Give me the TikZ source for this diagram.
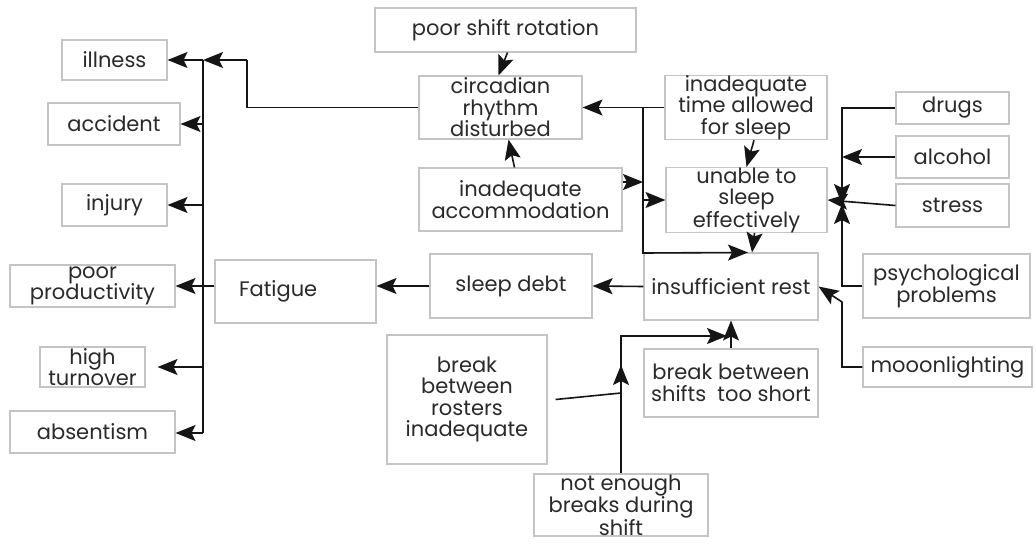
\documentclass[tikz,border=0pt]{standalone}
\usepackage{fontspec}
\setmainfont{Poppins}
\usepackage{tikz}
\usetikzlibrary{arrows.meta, positioning, calc}
\definecolor{boxgrey}{HTML}{C4C4C4}
\definecolor{inkgrey}{HTML}{2A2A2A}
\definecolor{linkblack}{HTML}{151515}

\begin{document}
\begin{tikzpicture}[x=1pt, y=-1pt,
  bx/.style={rectangle, draw=boxgrey, line width=1.1pt, align=center, inner sep=0pt,
             text=inkgrey, font=\fontsize{21}{21.5}\selectfont},
  nb/.style={bx, font=\fontsize{21}{20.5}\selectfont},
  ed/.style={-{Stealth[length=20pt, width=16pt, inset=4pt]}, line width=1.6pt, linkblack},
  ln/.style={line width=1.6pt, linkblack}]
\useasboundingbox[fill=white] (0,0) rectangle (1036,544);
% outcomes
\node[bx, minimum width=105pt, minimum height=40pt] (ill) at (114.5,60) {illness};
\node[bx, minimum width=132pt, minimum height=42pt] (acc) at (114,124) {accident};
\node[bx, minimum width=105pt, minimum height=42pt] (inj) at (114.5,205) {injury};
\node[bx, minimum width=165pt, minimum height=42pt] (pp) at (92.5,286) {poor\\productivity};
\node[bx, minimum width=105pt, minimum height=40pt] (ht) at (92.5,367) {high\\turnover};
\node[bx, minimum width=165pt, minimum height=42pt] (abs) at (92.5,432) {absentism};
\node[bx, minimum height=63pt, text width=113pt, inner xsep=24pt, align=left] (fat) at (295.5,291.5) {Fatigue};
% causes
\node[bx, minimum width=261pt, minimum height=44pt] (psr) at (505.5,30) {poor shift rotation};
\node[bx, minimum width=163pt, minimum height=63pt] (cir) at (500.5,107.5) {circadian\\rhythm\\disturbed};
\node[bx, minimum width=203pt, minimum height=63pt] (acm) at (520.5,199.5) {inadequate\\accommodation};
\node[bx, minimum width=162pt, minimum height=63pt] (itm) at (746,107.5) {inadequate\\time allowed\\for sleep};
\node[bx, minimum width=161pt, minimum height=64pt] (uns) at (746.5,200) {unable to\\sleep\\effectively};
\node[bx, minimum width=174pt, minimum height=67pt] (ir) at (731,286.5) {insufficient rest};
\node[bx, minimum width=162pt, minimum height=64pt] (sd) at (511,286) {sleep debt};
\node[bx, minimum width=113pt, minimum height=32pt] (drg) at (952.5,108) {drugs};
\node[bx, minimum width=113pt, minimum height=42pt] (alc) at (952.5,157) {alcohol};
\node[bx, minimum width=113pt, minimum height=43pt] (str) at (952.5,205.5) {stress};
\node[bx, minimum width=167pt, minimum height=64pt] (psy) at (946.5,286) {psychological\\problems};
\node[bx, minimum width=169pt, minimum height=40pt] (mnl) at (947.5,367) {mooonlighting};
\node[bx, minimum width=160pt, minimum height=129pt] (bro) at (467,399.5) {break\\between\\rosters\\inadequate};
\node[bx, minimum width=174pt, minimum height=68pt] (bbs) at (731,383) {break between\\shifts\ \ too short};
\node[nb, minimum width=174pt, minimum height=62pt] (neb) at (621,505) {not enough\\breaks during\\shift};
% junctions
\coordinate (bt) at (203,60); \coordinate (bb) at (203,433);
\coordinate (mj) at (643,107.5); \coordinate (rj) at (842,204);
\coordinate (nj) at (621,336);
% left fan
\draw[ln] (cir.west) -- (247,107.5) -- (247,60); \draw[ed] (247,60) -- (bt);
\draw[ln] (bt) -- (bb);
\draw[ed] (bt) -- (ill.east); \draw[ed] (acc.east -| bt) -- (acc.east);
\draw[ed] (inj.east -| bt) -- (inj.east); \draw[ed] (pp.east -| bt) -- (pp.east);
\draw[ed] (ht.east -| bt) -- ([xshift=12pt]ht.east); \draw[ed] (bb) -- (abs.east |- bb);
\draw[ln] (pp.east -| fat.west) -- (pp.east -| bt);
% middle
\draw[ed] ([xshift=2pt]psr.south) -- ([xshift=-2pt]cir.north);
\draw[ed] ([xshift=-6pt]acm.north) -- ([xshift=8pt]cir.south);
\draw[ed] (itm.west) -- (cir.east);
\draw[ed] (mj) -- (643,253) -- ([xshift=17pt]ir.north);
\draw[ed] (acm.east |- 0,182) -- (643,182);
\draw[ed] (uns.west -| mj) -- (uns.west);
\draw[ed] ([xshift=8pt]itm.south) -- (uns.north);
\draw[ed] ([xshift=8pt]uns.south) -- ([xshift=21pt]ir.north);
% right side
\draw[ed] (drg.west) -- (drg.west -| rj) -- (rj);
\draw[ed] (psy.west) -- (psy.west -| rj) -- (rj);
\draw[ed] (alc.west) -- (alc.west -| rj);
\draw[ed] (str.west) -- (uns.east);
\draw[ed] (mnl.west) -- (mnl.west -| rj) -- (842,302) -- (ir.east);
% bottom
\draw[ed] (ir.west) -- (sd.east);
\draw[ed] (sd.west) -- (sd.west -| fat.east);
\draw[ed] (bbs.north) -- (ir.south);
\draw[ed] (neb.north) -- (nj) -- (727,336);
\draw[ed] (neb.north) -- (621,365);
\draw[ln] ([xshift=8pt]bro.east) -- (621,393);
\end{tikzpicture}
\end{document}
